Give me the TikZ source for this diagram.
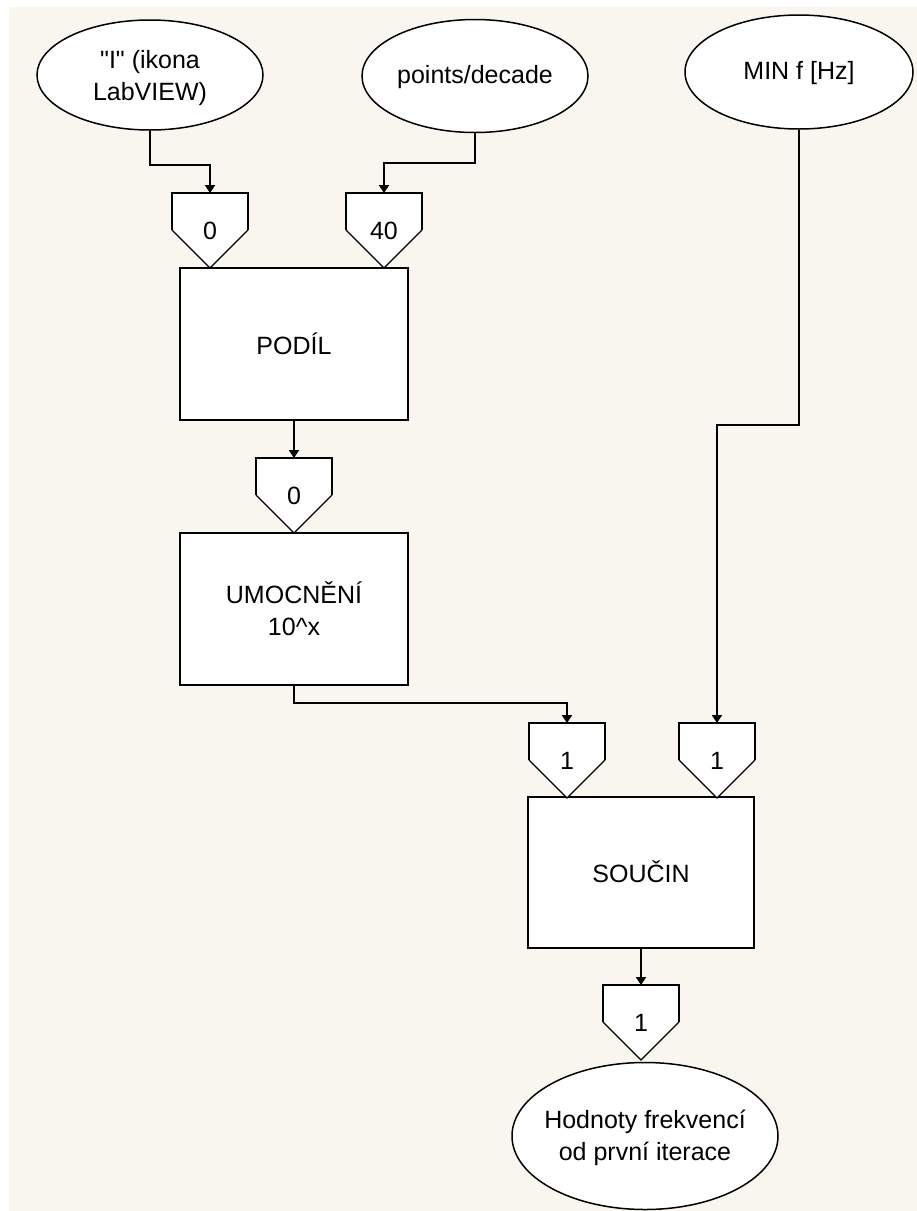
\documentclass[tikz,border=0pt]{standalone}
\usepackage{fontspec}
\setmainfont{Liberation Sans}[Ligatures=TeXOff]
\usetikzlibrary{shapes.geometric,arrows.meta,calc}
\definecolor{cream}{HTML}{F8F6EF}
\tikzset{
  txt/.style={font=\fontsize{25}{32}\selectfont, align=center, text=black},
  box/.style={draw=black, line width=2pt, fill=white, rectangle, minimum width=228pt, minimum height=152pt, inner sep=0pt, txt},
  ell/.style={draw=black, line width=1.5pt, fill=white, ellipse, inner sep=0pt},
  conn/.style={draw=black, line width=1.8pt, -{Triangle[width=10pt,length=8pt]}},
  pthick/.style={draw=black, line width=2pt},
  pthin/.style={draw=black, line width=1.2pt},
  lbl/.style={txt, inner sep=0pt}
}
\newcommand{\mypent}[4]{%
  \coordinate (#1-top) at (#2,#3);
  \coordinate (#1-tip) at (#2,#3+75);
  \fill[white] (#2-38,#3) -- (#2+38,#3) -- (#2+38,#3+37) -- (#2,#3+75) -- (#2-38,#3+37) -- cycle;
  \draw[pthick] (#2-38,#3+37) -- (#2-38,#3) -- (#2+38,#3) -- (#2+38,#3+37);
  \draw[pthin] (#2-38,#3+37) -- (#2,#3+75) -- (#2+38,#3+37);
  \node[lbl] (#1) at (#2,#3+38) {#4};
}
\begin{document}
\begin{tikzpicture}[x=1pt,y=-1pt]
  \useasboundingbox (0,0) rectangle (917,1211);
  \fill[white] (0,0) rectangle (917,1211);
  \fill[cream] (9,7) rectangle (917,1211);

  % input ellipses
  \node[ell, minimum width=226pt, minimum height=110pt] (e1) at (150,75) {};
  \node[txt] (e1t) at (150,78) {"I" (ikona\\LabVIEW)};
  \node[ell, minimum width=226pt, minimum height=113pt] (e2) at (475,76) {};
  \node[txt] (e2t) at (475,77) {points/decade};
  \node[ell, minimum width=228pt, minimum height=114pt] (e3) at (799,72) {};
  \node[txt] (e3t) at (799,73) {MIN f [Hz]};

  % boxes
  \node[box] (podil) at (294,344) {PODÍL};
  \node[box] (umoc) at (294,609) {UMOCNĚNÍ\\10\^{}x};
  \node[box, minimum width=226pt, minimum height=151pt] (soucin) at (641,872) {SOUČIN};

  % output ellipse
  \node[ell, minimum width=266pt, minimum height=147pt] (out) at (645,1136) {};
  \node[txt] (outt) at (645,1138) {Hodnoty frekvencí\\od první iterace};

  % terminals
  \mypent{pA}{210}{193}{0}
  \mypent{pB}{384}{193}{40}
  \mypent{pC}{294}{458}{0}
  \mypent{pD}{567}{723}{1}
  \mypent{pE}{717}{723}{1}
  \mypent{pF}{641}{985}{1}

  % connectors
  \draw[conn] (e1.south) -- ++(0,34) -| (pA-top);
  \draw[conn] (e2.south) -- ++(0,30) -| (pB-top);
  \draw[conn] (podil.south) -- (pC-top);
  \draw[conn] (umoc.south) -- ++(0,17) -| (pD-top);
  \draw[conn] (e3.south) -- ++(0,295) -| (pE-top);
  \draw[conn] (soucin.south) -- (pF-top);
\end{tikzpicture}
\end{document}
